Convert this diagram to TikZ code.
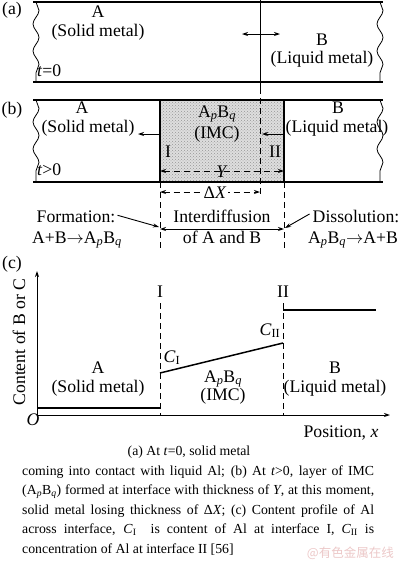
\documentclass[tikz,border=0pt]{standalone}
\usepackage{fontspec}
\setmainfont{Liberation Serif}
\newfontfamily\cjkfont{Noto Sans CJK SC}
\definecolor{imcFill}{RGB}{222,222,222}
\definecolor{imcDots}{RGB}{150,150,150}
\definecolor{markPink}{RGB}{236,200,200}
\usetikzlibrary{arrows.meta,positioning,patterns,decorations.pathmorphing}

\newcommand{\ApBq}{A\textsubscript{\itshape p}B\textsubscript{\itshape q}}

\begin{document}
\begin{tikzpicture}[x=1pt, y=-1pt,
  lbl/.style={font=\fontsize{17.7}{19}\selectfont, inner sep=0pt, anchor=base},
  bar/.style={line width=1.8pt},
  wavy/.style={line width=0.8pt, decorate, decoration={snake, segment length=27pt, amplitude=3pt}},
  arr/.style={-{Stealth[length=6pt,width=4pt]}, line width=0.9pt},
  darr/.style={{Stealth[length=6pt,width=4pt]}-{Stealth[length=6pt,width=4pt]}, line width=0.9pt},
  dline/.style={dash pattern=on 6pt off 4pt, line width=0.9pt},
  level/.style={line width=1.5pt}
]
  \useasboundingbox (0,0) rectangle (400,563);

  % ---- (a) t=0
  \draw[bar] (33,2) -- (383,2);
  \draw[bar] (33,82) -- (383,82);
  \draw[wavy] (36,2) -- (36,82);
  \draw[wavy] (380,2) -- (380,82);
  \draw[line width=1pt] (260,0) -- (260,88);
  \coordinate (aL) at (242,34);
  \coordinate (aR) at (280,34);
  \draw[darr] (aL) -- (aR);

  \node[lbl] (tagA)    at (12,14)  {(a)};
  \node[lbl] (nameA)   at (98,17)  {A};
  \node[lbl] (solidA)  at (98,36)  {(Solid metal)};
  \node[lbl] (nameB)   at (322,45) {B};
  \node[lbl] (liquidB) at (322,63) {(Liquid metal)};
  \node[lbl, anchor=base west] (timeA) at (37,76) {\textit{t}=0};

  % ---- (b) t>0
  \fill[imcFill] (160,100) rectangle (284,182);
  \fill[pattern=crosshatch dots, pattern color=imcDots] (160,100) rectangle (284,182);
  \draw[bar] (33,100) -- (383,100);
  \draw[bar] (33,182) -- (383,182);
  \draw[wavy] (36,100) -- (36,182);
  \draw[wavy] (380,100) -- (380,182);
  \draw[line width=1.2pt] (160,100) -- (160,182);
  \draw[line width=1.2pt] (284,100) -- (284,182);
  \draw[dline] (260,88) -- (260,197);
  \draw[dline] (160,182) -- (160,250);
  \draw[dline] (284,182) -- (284,250);

  \coordinate (ifI)  at (160,134);
  \coordinate (ifII) at (284,134);
  \draw[arr] (ifI) -- ++(-22,0);
  \draw[arr] (ifII) -- ++(-22,0);

  \node[lbl] (tagB)     at (12,114)  {(b)};
  \node[lbl] (nameAb)   at (82,113)  {A};
  \node[lbl] (solidAb)  at (88,132)  {(Solid metal)};
  \node[lbl] (imcName)  at (217,117) {\ApBq};
  \node[lbl] (imcTag)   at (217,138) {(IMC)};
  \node[lbl] (romI)     at (168,157) {I};
  \node[lbl] (romII)    at (275,157) {II};
  \node[lbl] (nameBb)   at (338,113) {B};
  \node[lbl] (liquidBb) at (337,132) {(Liquid metal)};
  \node[lbl, anchor=base west] (timeB) at (37,175) {\textit{t}>0};

  \coordinate (yL) at (160,171);
  \coordinate (yR) at (284,171);
  \draw[darr, dline] (yL) -- node[lbl, anchor=center, yshift=-1pt] (thickY) {\textit{Y}} (yR);
  \coordinate (xL) at (160,192);
  \coordinate (xR) at (260,192);
  \draw[darr, dline] (xL) -- node[lbl, anchor=center, fill=white, inner xsep=2pt, xshift=5pt, yshift=-1pt] (lossX) {Δ\textit{X}} (xR);

  % ---- reactions at the interfaces
  \node[lbl] (formLbl)  at (76,222)  {Formation:};
  \node[lbl] (formEq)   at (77,243)  {A+B$\rightarrow$\ApBq};
  \node[lbl] (diffLbl)  at (222,222) {Interdiffusion};
  \node[lbl] (diffOf)   at (222,243) {of A and B};
  \node[lbl] (dissLbl)  at (356,222) {Dissolution:};
  \node[lbl] (dissEq)   at (353,243) {\ApBq$\rightarrow$A+B};

  \coordinate (dL) at (160,229);
  \coordinate (dR) at (284,229);
  \draw[darr] (dL) -- (dR);
  \draw[arr] (formLbl.east) ++(2,-1) -- (159,227);
  \draw[arr] (dissLbl.west) ++(-3,-2) -- (285,228);

  % ---- (c) content profile
  \node[lbl] (tagC) at (12,268) {(c)};
  \coordinate (orig) at (37,415);
  \draw[arr] (orig) -- (37,271);
  \draw[arr] (orig) -- (390,415);
  \draw[dline] (160,303) -- (160,415);
  \draw[dline] (283,303) -- (283,415);
  \draw[level] (37,408) -- (160,408);
  \draw[level] (160,373) -- (283,343);
  \draw[level] (283,310) -- (376,310);

  \node[lbl] (originO) at (33,425) {\textit{O}};
  \node[lbl, anchor=center, rotate=90] (axisY) at (19,342) {Content of B or C};
  \node[lbl] (axisX)   at (341,437) {Position, \textit{x}};
  \node[lbl] (romIc)   at (160,297) {I};
  \node[lbl] (romIIc)  at (283,297) {II};
  \node[lbl] (concI)   at (172,362) {\textit{C}\textsubscript{I}};
  \node[lbl] (concII)  at (270,335) {\textit{C}\textsubscript{II}};
  \node[lbl] (nameAc)  at (98,373)  {A};
  \node[lbl] (solidAc) at (98,392)  {(Solid metal)};
  \node[lbl] (imcNameC) at (223,382) {\ApBq};
  \node[lbl] (imcTagC) at (223,400) {(IMC)};
  \node[lbl] (nameBc)  at (335,373) {B};
  \node[lbl] (liquidBc) at (335,392) {(Liquid metal)};

  % ---- caption
  \node[font=\fontsize{13.8}{19.6}\selectfont, inner sep=0pt, anchor=base] (capHead) at (189,455)
    {(a) At \textit{t}=0, solid metal};
  \node[font=\fontsize{13.8}{19.6}\selectfont, inner sep=0pt, anchor=base west,
        text width=352pt, align=justify] (capBody) at (22,475)
    {coming into contact with liquid Al; (b) At \textit{t}>0, layer of IMC\linebreak
     (\ApBq) formed at interface with thickness of \textit{Y}, at this moment,\linebreak
     solid metal losing thickness of Δ\textit{X}; (c) Content profile of Al\linebreak
     across interface, \textit{C}\textsubscript{I}\ \ is content of Al at interface I, \textit{C}\textsubscript{II} is\linebreak
     concentration of Al at interface II [56]};
  \node[font=\cjkfont\fontsize{12.5}{14}\selectfont, text=markPink, inner sep=0pt, anchor=base east] (mark) at (394,557)
    {@有色金属在线};
\end{tikzpicture}
\end{document}
